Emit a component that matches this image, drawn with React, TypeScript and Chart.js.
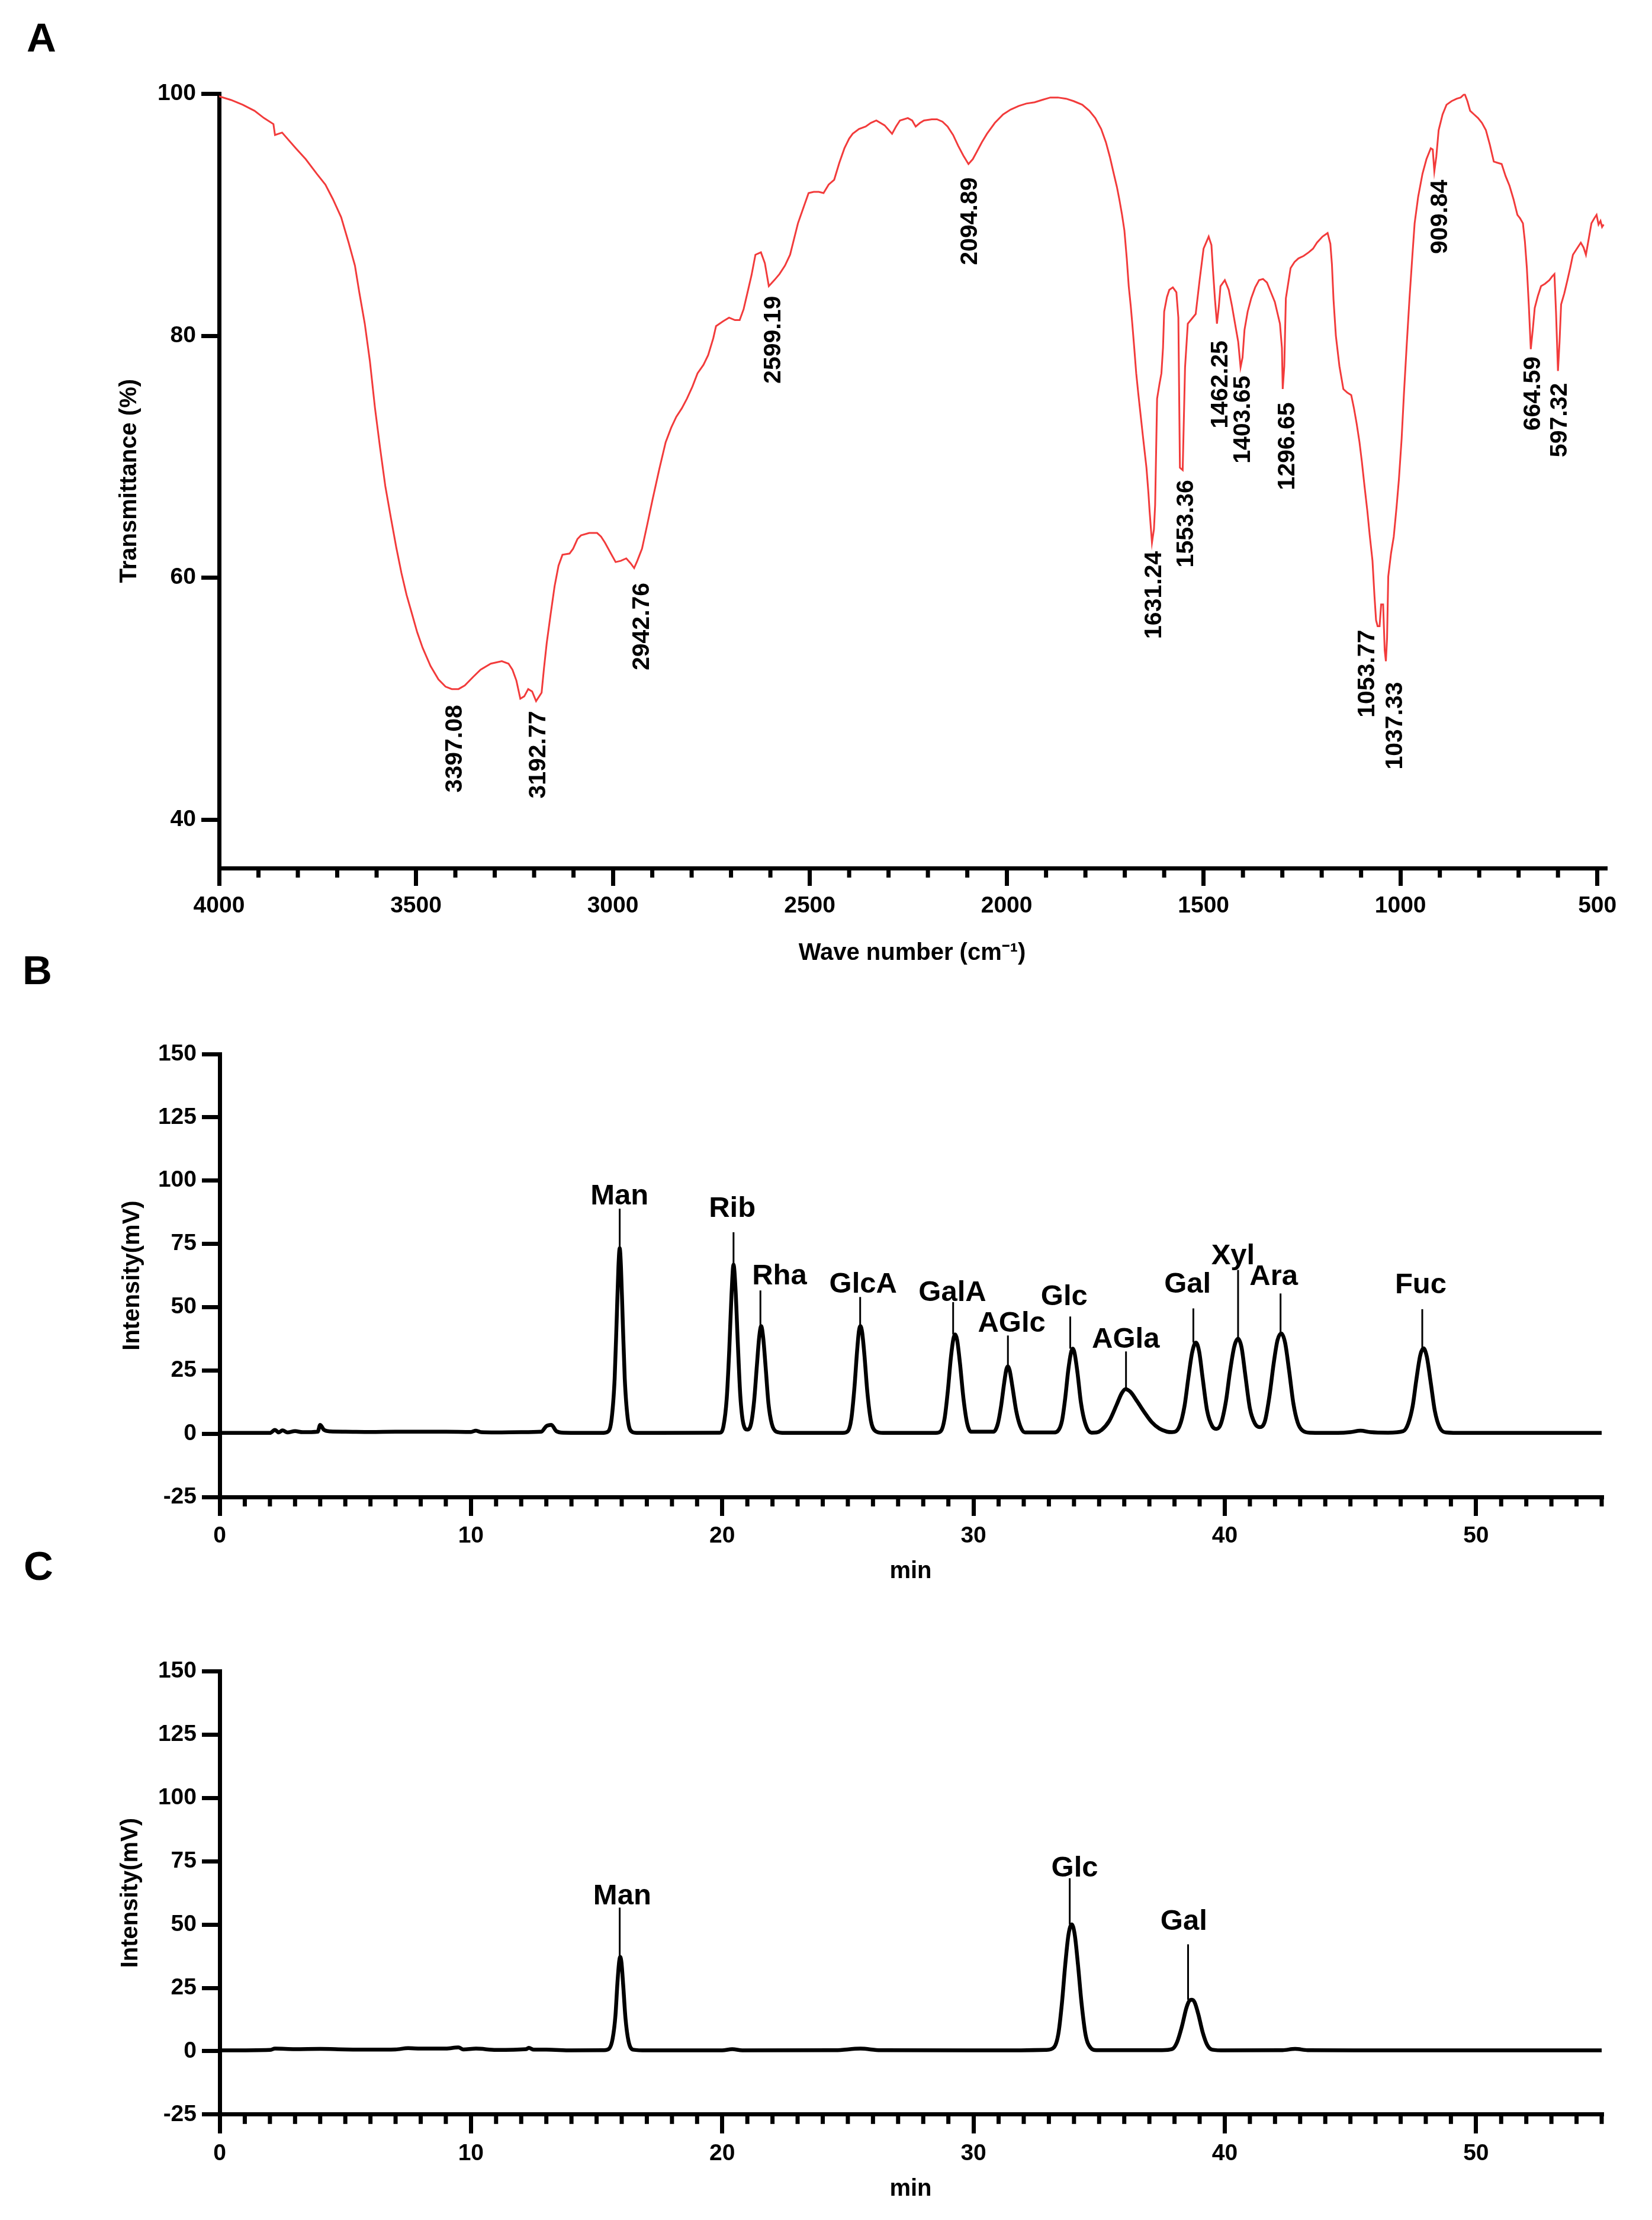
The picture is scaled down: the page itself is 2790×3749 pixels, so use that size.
import { useEffect, useRef } from "react";
import { Chart, registerables } from "chart.js";

Chart.register(...registerables);

const FONT = "'Liberation Sans', Arial, Helvetica, sans-serif";
const RED = "#f23b3b";

// ---------- A: FT-IR spectrum ----------
const irWave = [
  4000, 3970, 3940, 3910, 3886, 3862, 3858, 3840, 3805, 3780, 3752, 3730, 3711, 3690, 3671, 3655, 3644, 3630,
  3617, 3604, 3591, 3578, 3564, 3550, 3537, 3524, 3510, 3497, 3483, 3463, 3443, 3425, 3409, 3392, 3376, 3355,
  3336, 3310, 3282, 3265, 3255, 3245, 3235, 3225, 3215, 3205, 3195, 3181, 3175, 3168, 3158, 3148, 3138, 3128,
  3110, 3101, 3090, 3081, 3060, 3040, 3030, 3020, 3005, 2993, 2980, 2966, 2955, 2946, 2938, 2926, 2912, 2899,
  2882, 2866, 2852, 2839, 2825, 2812, 2798, 2785, 2770, 2758, 2745, 2738, 2720, 2705, 2690, 2678, 2668, 2658,
  2648, 2638, 2624, 2614, 2604, 2590, 2577, 2563, 2550, 2540, 2530, 2516, 2503, 2490, 2477, 2465, 2452, 2438,
  2425, 2412, 2400, 2391, 2375, 2358, 2345, 2331, 2310, 2291, 2281, 2271, 2251, 2240, 2231, 2220, 2210, 2190,
  2177, 2163, 2150, 2136, 2123, 2110, 2097, 2086, 2076, 2063, 2050, 2030, 2009, 1990, 1969, 1950, 1929, 1910,
  1889, 1870, 1849, 1830, 1808, 1790, 1775, 1760, 1748, 1738, 1728, 1720, 1714, 1707, 1701, 1695, 1690, 1685,
  1681, 1676, 1671, 1666, 1661, 1654, 1645, 1640, 1637, 1631, 1626, 1623, 1618, 1612, 1607, 1603, 1600, 1593,
  1587, 1578, 1569, 1564, 1560, 1553, 1547, 1540, 1530, 1520, 1510, 1500, 1487, 1480, 1476, 1471, 1466, 1461,
  1457, 1446, 1436, 1428, 1420, 1412, 1406, 1401, 1396, 1388, 1379, 1369, 1359, 1349, 1339, 1329, 1319, 1306,
  1301, 1299, 1295, 1291, 1279, 1269, 1259, 1246, 1233, 1222, 1212, 1198, 1185, 1178, 1174, 1170, 1164, 1155,
  1145, 1135, 1125, 1118, 1111, 1104, 1098, 1091, 1084, 1078, 1071, 1066, 1062, 1058, 1053, 1049, 1044, 1040,
  1037, 1034, 1031, 1024, 1017, 1010, 1004, 997, 991, 984, 977, 970, 964, 955, 944, 934, 923, 918,
  914, 909, 903, 893, 883, 870, 857, 847, 837, 830, 823, 813, 803, 793, 783, 773, 763, 753,
  743, 733, 723, 713, 703, 696, 689, 684, 679, 674, 669, 664, 659, 651, 643, 633, 622, 615,
  609, 605, 600, 596, 592, 584, 576, 569, 562, 552, 542, 535, 529, 522, 515, 508, 502, 497,
  492, 488, 484,
];
const irTrans = [
  99.8, 99.5, 99.1, 98.6, 98.0, 97.5, 96.6, 96.8, 95.5, 94.6, 93.4, 92.5, 91.3, 89.8, 87.7, 85.8, 83.6, 81.0,
  77.9, 74.0, 70.7, 67.6, 65.0, 62.5, 60.4, 58.6, 57.0, 55.5, 54.2, 52.7, 51.6, 51.0, 50.8, 50.8, 51.1, 51.8,
  52.4, 52.9, 53.1, 52.9, 52.4, 51.5, 50.0, 50.2, 50.8, 50.6, 49.8, 50.5, 52.5, 54.6, 57.0, 59.3, 61.0, 61.9,
  62.0, 62.4, 63.2, 63.5, 63.7, 63.7, 63.4, 62.9, 62.0, 61.3, 61.4, 61.6, 61.2, 60.8, 61.4, 62.4, 64.5, 66.5,
  69.0, 71.2, 72.4, 73.3, 74.0, 74.8, 75.8, 76.9, 77.6, 78.4, 79.8, 80.8, 81.2, 81.5, 81.3, 81.3, 82.2, 83.6,
  85.0, 86.7, 86.9, 86.0, 84.1, 84.6, 85.1, 85.8, 86.7, 88.0, 89.3, 90.6, 91.8, 91.9, 91.9, 91.8, 92.5, 92.9,
  94.3, 95.5, 96.3, 96.7, 97.1, 97.3, 97.6, 97.8, 97.4, 96.7, 97.3, 97.8, 98.0, 97.8, 97.3, 97.6, 97.8, 97.9,
  97.9, 97.7, 97.3, 96.6, 95.7, 94.9, 94.2, 94.6, 95.2, 96.0, 96.7, 97.6, 98.3, 98.7, 99.0, 99.2, 99.3, 99.5,
  99.7, 99.7, 99.6, 99.4, 99.1, 98.6, 98.0, 97.1, 96.0, 94.8, 93.4, 92.3, 91.3, 90.0, 88.7, 86.4, 84.1, 82.5,
  81.0, 79.0, 76.9, 75.3, 73.8, 71.7, 69.1, 67.0, 65.5, 62.9, 64.0, 66.0, 74.8, 76.0, 76.9, 79.0, 82.0, 83.2,
  83.8, 84.0, 83.6, 81.5, 69.1, 68.9, 77.4, 81.0, 81.4, 81.8, 84.6, 87.2, 88.2, 87.5, 85.4, 83.0, 81.0, 82.5,
  84.1, 84.6, 83.8, 82.5, 81.0, 79.5, 77.4, 78.2, 80.5, 82.0, 83.1, 84.0, 84.6, 84.7, 84.4, 83.6, 82.8, 81.0,
  79.0, 75.6, 77.5, 83.1, 85.6, 86.1, 86.4, 86.6, 86.9, 87.2, 87.7, 88.2, 88.5, 87.6, 85.9, 83.0, 80.0, 77.5,
  75.6, 75.3, 75.1, 74.0, 72.7, 71.2, 69.6, 67.5, 65.5, 63.5, 61.4, 58.5, 56.5, 56.0, 56.0, 57.8, 57.8, 54.0,
  53.1, 55.0, 60.1, 62.0, 63.4, 65.8, 68.1, 71.5, 75.3, 79.3, 83.1, 86.5, 89.3, 91.5, 93.4, 94.6, 95.5, 95.4,
  93.6, 94.8, 97.0, 98.3, 99.1, 99.4, 99.6, 99.7, 100.0, 99.4, 98.6, 98.3, 98.0, 97.6, 97.0, 95.8, 94.4, 94.3,
  94.2, 93.2, 92.4, 91.3, 90.0, 89.7, 89.3, 87.8, 85.6, 82.5, 78.9, 80.5, 82.3, 83.3, 84.1, 84.3, 84.6, 84.9,
  85.1, 82.0, 77.1, 79.5, 82.6, 83.5, 84.6, 85.6, 86.7, 87.2, 87.7, 87.3, 86.7, 88.0, 89.3, 89.7, 90.0, 89.2,
  89.5, 89.0, 89.2,
];
const irYTicks = [40, 60, 80, 100];
const irXMajor = [4000, 3500, 3000, 2500, 2000, 1500, 1000, 500];
const irXMinor = [
  3900, 3800, 3700, 3600, 3400, 3300, 3200, 3100, 2900, 2800, 2700, 2600, 2400, 2300, 2200, 2100,
  1900, 1800, 1700, 1600, 1400, 1300, 1200, 1100, 900, 800, 700, 600,
];
const irPeakText = [
  "3397.08", "3192.77", "2942.76", "2599.19", "2094.89", "1631.24", "1553.36", "1462.25",
  "1403.65", "1296.65", "1053.77", "1037.33", "909.84", "664.59", "597.32",
];
const irPeakTextX = [3400, 3188, 2926, 2591, 2092, 1625, 1543, 1457, 1399, 1286, 1084, 1013, 899, 662, 595];
const irPeakTextTop = [49.5, 49.0, 59.6, 83.3, 93.1, 62.2, 68.1, 79.6, 76.7, 74.5, 55.7, 51.4, 92.9, 78.3, 76.1];

// ---------- B: standard monosaccharide mix ----------
const mixTime = [
  0, 2.0, 2.2, 2.35, 2.5, 2.7, 3.0, 3.3, 3.9, 4.0, 4.15, 4.4, 5.0, 6.0, 7.0, 8.0, 9.0, 10.0, 10.2, 10.4,
  11.0, 12.0, 12.8, 13.0, 13.2, 13.4, 13.7, 15.2,
  15.45, 15.6, 15.72, 15.8, 15.87, 15.92, 15.97, 16.04, 16.12, 16.24, 16.4, 16.6,
  19.9, 20.05, 20.18, 20.28, 20.37, 20.45, 20.53, 20.62, 20.72, 20.84, 21.0,
  21.15, 21.27, 21.38, 21.47, 21.55, 21.63, 21.73, 21.84, 21.97, 22.15, 22.5, 24.8,
  25.0, 25.14, 25.26, 25.37, 25.44, 25.5, 25.57, 25.66, 25.78, 25.92, 26.1, 26.4, 28.5,
  28.7, 28.85, 28.98, 29.1, 29.2, 29.27, 29.35, 29.46, 29.6, 29.75, 29.9,
  30.8, 30.97, 31.1, 31.22, 31.31, 31.37, 31.44, 31.55, 31.7, 31.86, 32.05, 33.2,
  33.35, 33.52, 33.65, 33.77, 33.88, 33.95, 34.02, 34.14, 34.28, 34.45, 34.7, 34.9,
  35.1, 35.4, 35.7, 35.9, 36.05, 36.25, 36.5, 36.8, 37.1, 37.4, 37.7, 37.9,
  38.2, 38.4, 38.55, 38.7, 38.85, 38.98, 39.12, 39.3, 39.5, 39.68,
  39.85, 40.05, 40.2, 40.38, 40.53, 40.67, 40.82, 41.0, 41.2, 41.39,
  41.6, 41.78, 41.95, 42.1, 42.25, 42.4, 42.56, 42.73, 42.9, 43.1, 43.4, 44.5, 45.0, 45.4, 45.8, 46.5,
  47.1, 47.3, 47.48, 47.62, 47.78, 47.91, 48.04, 48.2, 48.36, 48.55, 48.8, 49.5, 55,
];
const mixSignal = [
  0.3, 0.3, 1.5, 0.5, 1.3, 0.5, 1.0, 0.6, 0.8, 3.5, 1.5, 0.9, 0.8, 0.7, 0.8, 0.8, 0.8, 0.7, 1.2, 0.6,
  0.5, 0.6, 0.8, 3.0, 3.5, 1.0, 0.4, 0.3,
  0.8, 6, 22, 45, 66, 73.3, 66, 45, 22, 6, 0.8, 0.3,
  0.4, 3, 14, 33, 55, 66.8, 57, 36, 15, 4, 1.6,
  4, 13, 27, 38, 42.5, 38, 26, 12, 4, 0.8, 0.3, 0.3,
  1, 6, 18, 33, 40.5, 42.5, 40, 31, 16, 5, 1, 0.3, 0.3,
  1, 6, 17, 30, 37.5, 39.2, 37, 28, 14, 4, 0.8,
  0.8, 4, 11, 20, 25.5, 26.6, 25, 18.5, 9, 3, 0.5, 0.5,
  1, 5, 14, 25, 32, 33.6, 32, 24, 12, 4, 0.4, 0.5,
  1.5, 5, 11.5, 16, 17.6, 16.5, 13, 8.5, 4.5, 2, 0.8, 0.6,
  3, 11, 22, 32, 36.0, 32.5, 22, 9, 3, 1.9,
  4, 13, 24, 34.5, 37.5, 34, 23, 10, 4, 2.6,
  5, 15, 28, 37, 39.6, 36, 25, 12, 4.5, 1.2, 0.4, 0.3, 0.6, 1.2, 0.6, 0.4,
  1, 4, 11, 21, 31, 33.7, 30.5, 20, 9, 2.5, 0.5, 0.3, 0.3,
];
const mixNames = ["Man", "Rib", "Rha", "GlcA", "GalA", "AGlc", "Glc", "AGla", "Gal", "Xyl", "Ara", "Fuc"];
const mixTextX = [15.91, 20.4, 22.28, 25.61, 29.16, 31.52, 33.61, 36.06, 38.52, 40.33, 41.95, 47.8];
const mixTextY = [90.5, 85.6, 59.0, 55.6, 52.5, 40.2, 50.7, 34.0, 55.6, 67.0, 58.8, 55.4];
const mixLineX = [15.92, 20.45, 21.52, 25.49, 29.19, 31.37, 33.85, 36.07, 38.75, 40.53, 42.22, 47.86];
const mixLineTop = [88.9, 79.6, 56.6, 54.0, 52.0, 38.8, 46.3, 32.5, 49.5, 64.7, 55.4, 49.2];
const mixPeak = [73.3, 66.8, 42.5, 42.5, 39.2, 26.6, 33.6, 17.6, 36.0, 37.5, 39.6, 33.7];

// ---------- C: sample hydrolysate ----------
const sampleTime = [
  0, 2.0, 2.2, 3.0, 4.0, 5.0, 6.0, 7.0, 7.5, 8.0, 9.0, 9.5, 9.7, 10.2, 11.0, 12.2, 12.3, 12.5, 13.0, 14.0, 15.3,
  15.5, 15.64, 15.75, 15.83, 15.9, 15.94, 15.99, 16.06, 16.15, 16.27, 16.45, 17.0,
  20.0, 20.4, 20.8, 24.5, 25.5, 26.3, 31.0, 32.9,
  33.2, 33.38, 33.52, 33.65, 33.78, 33.91, 34.03, 34.16, 34.3, 34.46, 34.65, 34.9, 37.5,
  37.9, 38.1, 38.3, 38.47, 38.6, 38.69, 38.8, 38.95, 39.12, 39.3, 39.5, 40.0,
  42.3, 42.8, 43.3, 46.0, 55,
];
const sampleSignal = [
  0.3, 0.5, 1.0, 0.8, 0.9, 0.7, 0.6, 0.7, 1.2, 1.0, 1.0, 1.5, 0.7, 1.0, 0.5, 0.8, 1.3, 0.6, 0.6, 0.3, 0.4,
  1, 5, 14, 27, 35.5, 37.2, 35, 26, 13, 4, 0.6, 0.3,
  0.3, 0.8, 0.3, 0.4, 1.0, 0.4, 0.3, 0.5,
  1.5, 7, 19, 34, 46, 50.1, 46, 34, 19, 6.5, 1.5, 0.4, 0.4,
  0.8, 3.5, 10, 17, 20, 20.3, 19.3, 14.5, 7.5, 2.5, 0.6, 0.3,
  0.4, 0.9, 0.4, 0.3, 0.3,
];
const sampleNames = ["Man", "Glc", "Gal"];
const sampleTextX = [16.02, 34.03, 38.37];
const sampleTextY = [57.9, 69.0, 48.0];
const sampleLineX = [15.92, 33.83, 38.54];
const sampleLineTop = [56.7, 68.3, 42.2];
const samplePeak = [37.2, 50.1, 20.3];

const hplcYTicks = [-25, 0, 25, 50, 75, 100, 125, 150];
const hplcXMajor = [0, 10, 20, 30, 40, 50];
const hplcXMinor = [
  1, 2, 3, 4, 5, 6, 7, 8, 9, 11, 12, 13, 14, 15, 16, 17, 18, 19, 21, 22, 23, 24, 25, 26, 27, 28, 29,
  31, 32, 33, 34, 35, 36, 37, 38, 39, 41, 42, 43, 44, 45, 46, 47, 48, 49, 51, 52, 53, 54, 55,
];

const AXIS_W = 7;

type Extra = {
  minor: number[];
  minorLength: number;
  draw?: (chart: Chart) => void;
};

const makeExtras = (cfg: Extra) => ({
  id: "extras",
  afterDraw(chart: Chart) {
    const { ctx, chartArea } = chart;
    const xs = chart.scales.x;
    ctx.save();
    ctx.strokeStyle = "#000";
    ctx.lineWidth = AXIS_W;
    cfg.minor.forEach((v) => {
      const px = xs.getPixelForValue(v);
      ctx.beginPath();
      ctx.moveTo(px, chartArea.bottom);
      ctx.lineTo(px, chartArea.bottom + cfg.minorLength);
      ctx.stroke();
    });
    ctx.restore();
    if (cfg.draw) cfg.draw(chart);
  },
});

const drawIrLabels = (chart: Chart) => {
  const { ctx } = chart;
  const xs = chart.scales.x;
  const ys = chart.scales.y;
  ctx.save();
  ctx.fillStyle = "#000";
  ctx.font = `bold 41px ${FONT}`;
  ctx.textAlign = "right";
  ctx.textBaseline = "middle";
  irPeakText.forEach((t, i) => {
    const px = xs.getPixelForValue(irPeakTextX[i]);
    const py = ys.getPixelForValue(irPeakTextTop[i]);
    ctx.save();
    ctx.translate(px, py);
    ctx.rotate(-Math.PI / 2);
    ctx.fillText(t, 0, 0);
    ctx.restore();
  });
  ctx.restore();
};

const peakLabeller =
  (names: string[], tx: number[], ty: number[], lx: number[], ltop: number[], peak: number[]) =>
  (chart: Chart) => {
    const { ctx } = chart;
    const xs = chart.scales.x;
    const ys = chart.scales.y;
    ctx.save();
    ctx.strokeStyle = "#000";
    ctx.lineWidth = 3;
    ctx.fillStyle = "#000";
    ctx.font = `bold 49px ${FONT}`;
    ctx.textAlign = "center";
    ctx.textBaseline = "alphabetic";
    names.forEach((n, i) => {
      const x = xs.getPixelForValue(lx[i]);
      ctx.beginPath();
      ctx.moveTo(x, ys.getPixelForValue(ltop[i]));
      ctx.lineTo(x, ys.getPixelForValue(peak[i]));
      ctx.stroke();
      ctx.fillText(n, xs.getPixelForValue(tx[i]), ys.getPixelForValue(ty[i]));
    });
    ctx.restore();
  };

const axisStyle = (tickLength: number, labelPad: number) => ({
  border: { display: true, color: "#000", width: AXIS_W },
  grid: {
    drawOnChartArea: false,
    drawTicks: true,
    tickLength,
    color: "#000",
    lineWidth: AXIS_W,
    tickWidth: AXIS_W,
    tickColor: "#000",
  },
  ticks: {
    color: "#000",
    font: { family: FONT, size: 39, weight: "bold" as const },
    padding: labelPad,
    autoSkip: false,
    maxRotation: 0,
    minRotation: 0,
    callback: (v: any) => String(v),
  },
});

const titleFont = { family: FONT, size: 40, weight: "bold" as const };

const App = () => {
  const refA = useRef<HTMLCanvasElement | null>(null);
  const refB = useRef<HTMLCanvasElement | null>(null);
  const refC = useRef<HTMLCanvasElement | null>(null);

  useEffect(() => {
    const charts: Chart[] = [];

    if (refA.current) {
      charts.push(
        new Chart(refA.current, {
          type: "line",
          data: {
            datasets: [
              {
                data: irWave.map((w, i) => ({ x: w, y: irTrans[i] })),
                borderColor: RED,
                borderWidth: 3,
                pointRadius: 0,
                tension: 0,
                fill: false,
              },
            ],
          },
          options: {
            animation: false,
            responsive: true,
            maintainAspectRatio: false,
            layout: { padding: { top: 158.5, right: 79, bottom: 0, left: 0 } },
            plugins: { legend: { display: false }, tooltip: { enabled: false } },
            scales: {
              x: {
                type: "linear",
                reverse: true,
                min: 480,
                max: 4000,
                afterBuildTicks: (s: any) => {
                  s.ticks = irXMajor.map((v) => ({ value: v }));
                },
                afterFit: (s: any) => {
                  s.height = 184;
                },
                ...axisStyle(30, 11),
                title: {
                  display: true,
                  text: "Wave number (cm\u207B\u00B9)",
                  color: "#000",
                  font: titleFont,
                  padding: { top: 0, bottom: 16 },
                },
              },
              y: {
                type: "linear",
                min: 36,
                max: 100,
                afterBuildTicks: (s: any) => {
                  s.ticks = irYTicks.map((v) => ({ value: v }));
                },
                afterFit: (s: any) => {
                  s.width = 370;
                },
                ...axisStyle(30, 9),
                title: {
                  display: true,
                  text: "Transmittance (%)",
                  color: "#000",
                  font: titleFont,
                  padding: { top: 195, bottom: 0 },
                },
              },
            },
          },
          plugins: [makeExtras({ minor: irXMinor, minorLength: 16, draw: drawIrLabels })],
        } as any)
      );
    }

    const hplc = (
      canvas: HTMLCanvasElement,
      time: number[],
      signal: number[],
      top: number,
      xHeight: number,
      titleBottom: number,
      yTitlePad: number,
      draw: (c: Chart) => void
    ) =>
      new Chart(canvas, {
        type: "line",
        data: {
          datasets: [
            {
              data: time.map((t, i) => ({ x: t, y: signal[i] })),
              borderColor: "#000",
              borderWidth: 6.5,
              borderJoinStyle: "round",
              pointRadius: 0,
              tension: 0.4,
              cubicInterpolationMode: "monotone",
              fill: false,
            },
          ],
        },
        options: {
          animation: false,
          responsive: true,
          maintainAspectRatio: false,
          layout: { padding: { top, right: 85, bottom: 0, left: 0 } },
          plugins: { legend: { display: false }, tooltip: { enabled: false } },
          scales: {
            x: {
              type: "linear",
              min: 0,
              max: 55,
              afterBuildTicks: (s: any) => {
                s.ticks = hplcXMajor.map((v) => ({ value: v }));
              },
              afterFit: (s: any) => {
                s.height = xHeight;
              },
              ...axisStyle(32, 11),
              title: {
                display: true,
                text: "min",
                color: "#000",
                font: titleFont,
                padding: { top: 0, bottom: titleBottom },
              },
            },
            y: {
              type: "linear",
              min: -25,
              max: 150,
              afterBuildTicks: (s: any) => {
                s.ticks = hplcYTicks.map((v) => ({ value: v }));
              },
              afterFit: (s: any) => {
                s.width = 371;
              },
              ...axisStyle(30, 9),
              title: {
                display: true,
                text: "Intensity(mV)",
                color: "#000",
                font: titleFont,
                padding: { top: yTitlePad, bottom: 0 },
              },
            },
          },
        },
        plugins: [makeExtras({ minor: hplcXMinor, minorLength: 16, draw })],
      } as any);

    if (refB.current) {
      charts.push(
        hplc(
          refB.current,
          mixTime,
          mixSignal,
          130,
          172,
          22,
          200,
          peakLabeller(mixNames, mixTextX, mixTextY, mixLineX, mixLineTop, mixPeak)
        )
      );
    }
    if (refC.current) {
      charts.push(
        hplc(
          refC.current,
          sampleTime,
          sampleSignal,
          122.5,
          178.2,
          28,
          197,
          peakLabeller(sampleNames, sampleTextX, sampleTextY, sampleLineX, sampleLineTop, samplePeak)
        )
      );
    }

    return () => {
      charts.forEach((c) => c.destroy());
    };
  }, []);

  const letter = (left: number, top: number) => ({
    position: "absolute" as const,
    left,
    top,
    font: `bold 69px ${FONT}`,
    lineHeight: 1,
    color: "#000",
  });

  return (
    <div
      style={{
        position: "absolute",
        left: 0,
        top: 0,
        width: 2790,
        height: 3749,
        background: "#fff",
        overflow: "hidden",
      }}
    >
      <div style={{ position: "absolute", left: 0, top: 0, width: 2790, height: 1650 }}>
        <canvas ref={refA} />
      </div>
      <div style={{ position: "absolute", left: 0, top: 1650, width: 2790, height: 1050 }}>
        <canvas ref={refB} />
      </div>
      <div style={{ position: "absolute", left: 0, top: 2700, width: 2790, height: 1049 }}>
        <canvas ref={refC} />
      </div>
      <div style={letter(45, 29)}>A</div>
      <div style={letter(38, 1604)}>B</div>
      <div style={letter(40, 2610)}>C</div>
    </div>
  );
};

export default App;
